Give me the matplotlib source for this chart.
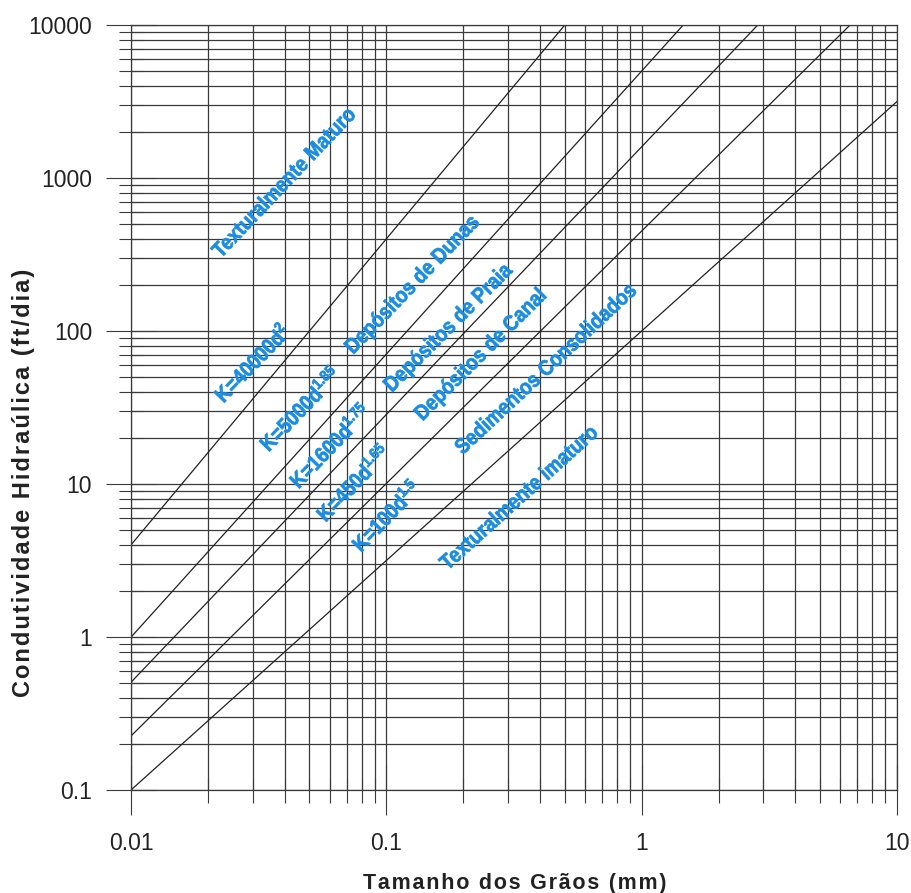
import numpy as np
import matplotlib
matplotlib.use("Agg")
import matplotlib.pyplot as plt
import matplotlib.transforms as mtransforms
from matplotlib.textpath import TextPath
from matplotlib.patches import PathPatch
from matplotlib.font_manager import FontProperties
from matplotlib.ticker import LogLocator, FixedFormatter, FixedLocator, NullFormatter

# Power-law relations K = C * d^n for each sediment class
coefs = [40000, 5000, 1600, 450, 100]
exponents = [2.0, 1.85, 1.75, 1.65, 1.5]
coef_labels = ["K=40000d$^{2}$", "K=5000d$^{1.85}$", "K=1600d$^{1.75}$",
               "K=450d$^{1.65}$", "K=100d$^{1.5}$"]
zone_labels = ["Texturalmente Maturo", "Depósitos de Dunas", "Depósitos de Praia",
               "Depósitos de Canal", "Sedimentos Consolidados", "Texturalmente imaturo"]
grain_ends = [0.01, 10.0]
x_ticks = [0.01, 0.1, 1, 10]
x_tick_labels = ["0.01", "0.1", "1", "10"]
y_ticks = [0.1, 1, 10, 100, 1000, 10000]
y_tick_labels = ["0.1", "1", "10", "100", "1000", "10000"]

plt.rcParams["font.family"] = ["Liberation Sans Narrow", "Liberation Sans", "DejaVu Sans"]
plt.rcParams["mathtext.fontset"] = "custom"
plt.rcParams["mathtext.rm"] = "Liberation Sans:bold"
plt.rcParams["mathtext.bf"] = "Liberation Sans:bold"
plt.rcParams["mathtext.it"] = "Liberation Sans:bold"

W, H = 911, 893
fig = plt.figure(figsize=(W / 100, H / 100), dpi=100)
ax = fig.add_axes([131 / W, 103 / H, 766 / W, 765 / H])
ax.set_xscale("log")
ax.set_yscale("log")
ax.set_xlim(0.01, 10)
ax.set_ylim(0.1, 10000)

grid_col = "#3a3a3a"
ax.xaxis.set_major_locator(FixedLocator(x_ticks))
ax.xaxis.set_major_formatter(FixedFormatter(x_tick_labels))
ax.yaxis.set_major_locator(FixedLocator(y_ticks))
ax.yaxis.set_major_formatter(FixedFormatter(y_tick_labels))
ax.xaxis.set_minor_locator(LogLocator(base=10, subs=np.arange(2, 10), numticks=20))
ax.yaxis.set_minor_locator(LogLocator(base=10, subs=np.arange(2, 10), numticks=20))
ax.xaxis.set_minor_formatter(NullFormatter())
ax.yaxis.set_minor_formatter(NullFormatter())

ax.grid(True, which="both", color=grid_col, linewidth=0.9)
ax.set_axisbelow(True)
ax.tick_params(which="major", direction="inout", length=36, width=0.8, color=grid_col,
               labelsize=16.5, labelcolor="#222222", pad=10)
ax.tick_params(which="minor", direction="inout", length=18, width=0.8, color=grid_col)
ax.tick_params(axis="x", which="major", pad=12)
ax.tick_params(top=False, right=False, which="both")
for s in ax.spines.values():
    s.set_color(grid_col)
    s.set_linewidth(0.9)

d = np.array(grain_ends)
for c, n in zip(coefs, exponents):
    ax.plot(d, c * d ** n, color="#222222", linewidth=0.9)

# Blue annotations: bold sans glyphs, slightly condensed, rotated along the bands
blue = "#1a8de2"
label_font = FontProperties(family="Liberation Sans", weight="bold")
condense = 0.88


def condensed_label(txt, x, y, angle, size=15.6):
    path = TextPath((0, 0), txt, size=size, prop=label_font)
    bb = path.get_extents()
    cx, cy = (bb.x0 + bb.x1) / 2, (bb.y0 + bb.y1) / 2
    px, py = ax.transData.transform((x, y))
    tr = (mtransforms.Affine2D()
          .translate(-cx, -cy)
          .scale(fig.dpi / 72 * condense, fig.dpi / 72)
          .rotate_deg(angle)
          .translate(px, py))
    fig.add_artist(PathPatch(path, transform=tr, facecolor=blue,
                             edgecolor=blue, linewidth=0.55, zorder=5))


label_pos = [
    (zone_labels[0], 0.0394, 942, 46.5),
    (coef_labels[0], 0.0295, 62.7, 46),
    (zone_labels[1], 0.127, 200, 46),
    (coef_labels[1], 0.0455, 31.4, 46),
    (zone_labels[2], 0.176, 105, 45),
    (coef_labels[2], 0.0596, 18.0, 46),
    (zone_labels[3], 0.235, 69.7, 45),
    (coef_labels[3], 0.0735, 10.3, 46),
    (zone_labels[4], 0.418, 57.3, 43),
    (coef_labels[4], 0.0989, 6.27, 46),
    (zone_labels[5], 0.328, 8.22, 42),
]
for txt, x, y, rot in label_pos:
    condensed_label(txt, x, y, rot)

sp = "\u200a"
xlab = sp.join("Tamanho dos Grãos (mm)")
ylab = sp.join("Condutividade Hidraúlica (ft/dia)")
ax.set_xlabel(xlab, fontsize=15.5, fontweight="bold", color="#222222")
ax.set_ylabel(ylab, fontsize=17, fontweight="bold", color="#222222")
ax.xaxis.set_label_coords(0.501, -0.1216)
ax.yaxis.set_label_coords(-0.14, 0.401)
ax.xaxis.label.set_va("center")
ax.yaxis.label.set_va("center")

fig.savefig("out.png", dpi=100)
